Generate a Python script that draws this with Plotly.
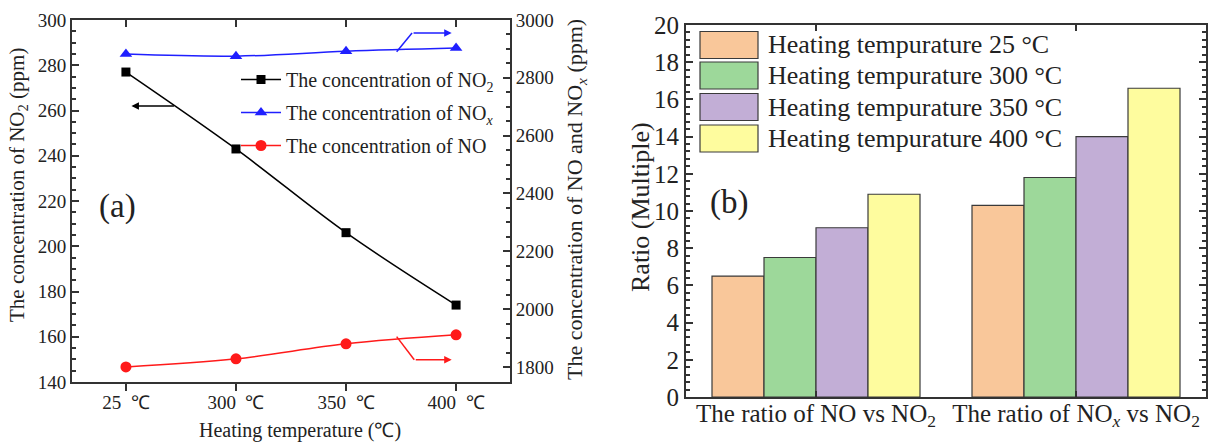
import plotly.graph_objects as go

# ---------------- data ----------------
temps_a = ["25  ℃", "300  ℃", "350  ℃", "400  ℃"]
no2_conc = [277, 243, 206, 174]          # left axis (ppm)
nox_conc = [2882, 2875, 2892, 2903]      # right axis (ppm)
no_conc = [1800, 1828, 1880, 1911]       # right axis (ppm)

ratio_cats = ["The ratio of NO vs NO<sub>2</sub>",
              "The ratio of NO<i><sub>x</sub></i> vs NO<sub>2</sub>"]
series_names = ["Heating tempurature 25 °C", "Heating tempurature 300 °C",
                "Heating tempurature 350 °C", "Heating tempurature 400 °C"]
ratio_25 = [6.5, 10.3]
ratio_300 = [7.5, 11.8]
ratio_350 = [9.1, 14.0]
ratio_400 = [10.9, 16.6]
bar_colors = ["#F9C79A", "#9DD89A", "#C2AED6", "#FEFC9E"]

FONT = "Liberation Serif"
W, H = 1220, 442

def px(x):
    return x / W

def py(y):
    return 1 - y / H

xa = list(range(len(temps_a)))

fig = go.Figure()

# ---------------- panel (a) ----------------
fig.add_trace(go.Scatter(
    x=xa, y=no2_conc, name="The concentration of NO<sub>2</sub>",
    mode="lines+markers", line=dict(color="black", width=1.5, shape="spline"),
    marker=dict(symbol="square", size=9, color="black"),
    xaxis="x", yaxis="y", legend="legend", legendgroup="a"))
fig.add_trace(go.Scatter(
    x=xa, y=nox_conc, name="The concentration of NO<i><sub>x</sub></i>",
    mode="lines+markers", line=dict(color="#1f1fff", width=1.5, shape="spline"),
    marker=dict(symbol="triangle-up", size=11, color="#1f1fff"),
    xaxis="x", yaxis="y2", legend="legend", legendgroup="b"))
fig.add_trace(go.Scatter(
    x=xa, y=no_conc, name="The concentration of NO",
    mode="lines+markers", line=dict(color="#ff1a1a", width=1.5, shape="spline"),
    marker=dict(symbol="circle", size=11, color="#ff1a1a"),
    xaxis="x", yaxis="y2", legend="legend", legendgroup="c"))
# dummy trace for top inside ticks
fig.add_trace(go.Scatter(x=[None], y=[None], xaxis="x5", yaxis="y",
                         showlegend=False, hoverinfo="skip"))

# ---------------- panel (b) ----------------
for name, vals, col in zip(series_names, [ratio_25, ratio_300, ratio_350, ratio_400], bar_colors):
    fig.add_trace(go.Bar(
        x=ratio_cats, y=vals, name=name, marker=dict(color=col, line=dict(color="#3a3a3a", width=1.2)),
        xaxis="x3", yaxis="y3", showlegend=False))

axis_common = dict(showline=True, linecolor="#333", linewidth=2, showgrid=False, zeroline=False,
                   automargin=False,
                   tickcolor="#333", tickfont=dict(family=FONT, size=19, color="#222"))

dom_ax = [px(72), px(510)]
dom_ay = [py(382), py(20)]
dom_bx = [px(686), px(1206)]
dom_by = [py(397), py(25)]

fig.update_layout(
    width=W, height=H, margin=dict(l=0, r=0, t=0, b=0, autoexpand=False),
    paper_bgcolor="white", plot_bgcolor="white",
    font=dict(family=FONT, color="#222"),
    barmode="group", bargap=0.2, bargroupgap=0,
    xaxis=dict(**axis_common, domain=dom_ax, anchor="y", range=[-0.49, 3.49],
               tickvals=xa, ticktext=temps_a, ticks="outside", ticklen=7, tickwidth=1.5, mirror=True,
               ticklabelstandoff=-5),
    xaxis5=dict(overlaying="x", side="top", anchor="y", range=[-0.49, 3.49], tickvals=xa,
                ticks="inside", ticklen=7, tickwidth=1.5, showticklabels=False, showline=False,
                showgrid=False, zeroline=False, tickcolor="#333", automargin=False),
    yaxis=dict(**axis_common, domain=dom_ay, anchor="x", range=[140, 300], dtick=20,
               ticks="inside", ticklen=7, tickwidth=1.5,
               minor=dict(dtick=5, ticks="inside", ticklen=4, tickcolor="#333")),
    yaxis2=dict(**axis_common, overlaying="y", side="right", anchor="x", range=[1748, 3000], dtick=200,
                ticks="inside", ticklen=7, tickwidth=1.5,
                minor=dict(dtick=50, ticks="inside", ticklen=4, tickcolor="#333")),
    xaxis3=dict(**{**axis_common, "tickfont": dict(family=FONT, size=25, color="#222")},
                domain=dom_bx, anchor="y3", range=[-0.5, 1.5], ticks="inside", ticklen=6,
                tickwidth=1.5, mirror="ticks", ticklabelstandoff=-7),
    yaxis3=dict(**{**axis_common, "tickfont": dict(family=FONT, size=25, color="#222")},
                domain=dom_by, anchor="x3", range=[0, 20], dtick=2, ticks="inside", ticklen=7,
                tickwidth=1.5, mirror="ticks",
                minor=dict(dtick=0.4, ticks="inside", ticklen=4, tickcolor="#333")),
    legend=dict(x=px(236), y=py(60), xanchor="left", yanchor="top", bgcolor="rgba(0,0,0,0)",
                font=dict(family=FONT, size=20, color="#222"), tracegroupgap=4,
                traceorder="grouped", itemwidth=40),
)

annotations = []
def title_ann(x, y, text, size, angle=0):
    return dict(x=px(x), y=py(y), xref="paper", yref="paper", xanchor="center", yanchor="middle",
                textangle=angle, text=text, showarrow=False,
                font=dict(family=FONT, size=size, color="#222"))

annotations.append(title_ann(18, 185, "The concentration of NO<sub>2</sub> (ppm)", 21, -90))
annotations.append(title_ann(576, 200, "The concentration of NO and NO<i><sub>x</sub></i> (ppm)", 22, -90))
annotations.append(title_ann(300, 430, "Heating temperature (℃)", 20))
annotations.append(title_ann(640, 207, "Ratio (Multiple)", 26, -90))
annotations.append(title_ann(117, 206, "(a)", 33))
annotations.append(title_ann(729, 203, "(b)", 33))

shapes = []
# arrows in panel (a)
annotations.append(dict(ax=0.45, ay=262, x=0.05, y=262, xref="x", yref="y", axref="x", ayref="y",
                        text="", showarrow=True, arrowhead=2, arrowsize=1, arrowwidth=1.5,
                        arrowcolor="black"))
shapes.append(dict(type="path", xref="x", yref="y2", path="M 2.46,2890 L 2.6,2955",
                   line=dict(color="#1f1fff", width=1.5)))
annotations.append(dict(ax=2.6, ay=2955, x=2.96, y=2955, xref="x", yref="y2", axref="x", ayref="y2",
                        text="", showarrow=True, arrowhead=2, arrowsize=1, arrowwidth=1.5,
                        arrowcolor="#1f1fff"))
shapes.append(dict(type="path", xref="x", yref="y2", path="M 2.46,1905 L 2.62,1825",
                   line=dict(color="#ff1a1a", width=1.5)))
annotations.append(dict(ax=2.62, ay=1825, x=2.96, y=1825, xref="x", yref="y2", axref="x", ayref="y2",
                        text="", showarrow=True, arrowhead=2, arrowsize=1, arrowwidth=1.5,
                        arrowcolor="#ff1a1a"))

# manual legend for panel (b)
rows_y = [45, 75.5, 107, 138.5]
for name, col, yc in zip(series_names, bar_colors, rows_y):
    shapes.append(dict(type="rect", xref="paper", yref="paper", x0=px(700), x1=px(758),
                       y0=py(yc + 13.5), y1=py(yc - 13.5), fillcolor=col,
                       line=dict(color="#3a3a3a", width=1.2)))
    annotations.append(dict(x=px(766), y=py(yc), xref="paper", yref="paper", xanchor="left",
                            yanchor="middle", text=name, showarrow=False,
                            font=dict(family=FONT, size=26, color="#222")))

fig.update_layout(annotations=annotations, shapes=shapes)
fig.write_html("out.html")
